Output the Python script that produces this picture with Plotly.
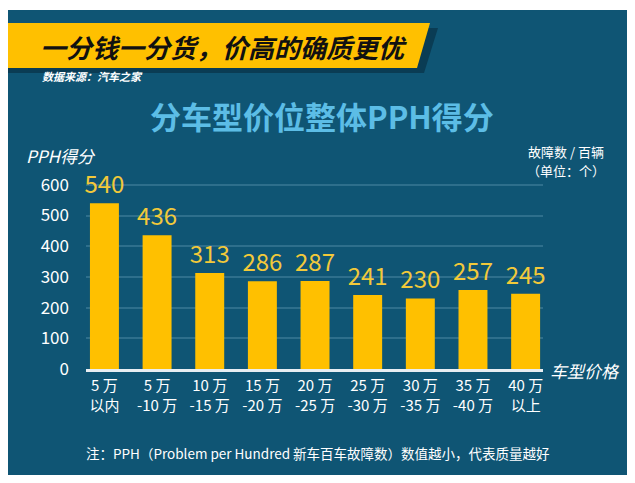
import plotly.graph_objects as go

categories = ["5 万<br>以内", "5 万<br>-10 万", "10 万<br>-15 万", "15 万<br>-20 万", "20 万<br>-25 万",
              "25 万<br>-30 万", "30 万<br>-35 万", "35 万<br>-40 万", "40 万<br>以上"]
pph_values = [540, 436, 313, 286, 287, 241, 230, 257, 245]
y_ticks = [0, 100, 200, 300, 400, 500, 600]

# page body has an 8px margin; figure covers the rest of the 635x483 window
OFF = 8
W, H = 635 - OFF, 483 - OFF
BG = "#0f5574"
YEL = "#ffc000"
CJK = "Noto Sans CJK SC"

def px(x):
    return (x - OFF) / W

def py(y):
    return 1 - (y - OFF) / H

x_idx = list(range(len(categories)))

fig = go.Figure()
fig.add_trace(go.Bar(
    x=x_idx, y=pph_values, marker=dict(color=YEL, line=dict(width=0)),
    width=0.55,
    text=[str(v) for v in pph_values], textposition="outside",
    textfont=dict(color="#f2c93a", size=24, family=CJK),
    constraintext="none",
    cliponaxis=False, hoverinfo="skip",
))

plot_left, plot_right, plot_bottom = 86, 543, 369
ymax = 630
ppu = 30.7 / 100
plot_top = plot_bottom - ymax * ppu

fig.update_layout(
    width=W, height=H,
    margin=dict(l=0, r=0, t=0, b=0, autoexpand=False),
    paper_bgcolor="white", plot_bgcolor="rgba(0,0,0,0)",
    showlegend=False,
    bargap=0.45,
    font=dict(family=CJK, color="white"),
    xaxis=dict(
        domain=[px(plot_left), px(plot_right)],
        range=[-0.35, 8.33], tickvals=x_idx, ticktext=categories,
        tickfont=dict(size=15, color="white", family=CJK),
        showgrid=False, zeroline=False, showline=True, linecolor="#e8eef2", linewidth=3,
        ticks="", ticklabelstandoff=1, automargin=False,
    ),
    yaxis=dict(
        domain=[py(plot_bottom), py(plot_top)],
        range=[0, ymax], tickvals=y_ticks, ticktext=[str(t) for t in y_ticks],
        tickfont=dict(size=17, color="white", family=CJK),
        showgrid=True, gridcolor="#2e6f8c", gridwidth=1.5, zeroline=False, showline=False,
        ticks="", ticklabelstandoff=16, automargin=False,
    ),
)

shapes = []
# dark panel
shapes.append(dict(type="rect", xref="paper", yref="paper", layer="below",
                   x0=px(8), x1=px(628), y0=py(475), y1=py(10),
                   fillcolor=BG, line=dict(width=0)))
# banner shadow
shapes.append(dict(type="path", xref="paper", yref="paper", layer="below",
                   path=f"M {px(8)},{py(28)} L {px(438)},{py(28)} L {px(424)},{py(73)} L {px(8)},{py(73)} Z",
                   fillcolor="#0a3c54", line=dict(width=0)))
# yellow banner
shapes.append(dict(type="path", xref="paper", yref="paper", layer="below",
                   path=f"M {px(8)},{py(23)} L {px(430)},{py(23)} L {px(417)},{py(68)} L {px(8)},{py(68)} Z",
                   fillcolor=YEL, line=dict(width=0)))
fig.update_layout(shapes=shapes)

ann = []
ann.append(dict(x=px(38), y=py(47), xref="paper", yref="paper", xanchor="left", yanchor="middle",
                text="<b><i>一分钱一分货，价高的确质更优</i></b>", showarrow=False,
                font=dict(size=26, color="#111111", family=CJK)))
ann.append(dict(x=px(40), y=py(76), xref="paper", yref="paper", xanchor="left", yanchor="middle",
                text="<b><i>数据来源：汽车之家</i></b>", showarrow=False,
                font=dict(size=11, color="white", family=CJK)))
ann.append(dict(x=px(322), y=py(115), xref="paper", yref="paper", xanchor="center", yanchor="middle",
                text="<b>分车型价位整体PPH得分</b>", showarrow=False,
                font=dict(size=31, color="#5cbde6", family=CJK)))
ann.append(dict(x=px(24), y=py(155), xref="paper", yref="paper", xanchor="left", yanchor="middle",
                text="<i>PPH得分</i>", showarrow=False,
                font=dict(size=17, color="white", family=CJK)))
ann.append(dict(x=px(566), y=py(151), xref="paper", yref="paper", xanchor="center", yanchor="middle",
                text="故障数 / 百辆", showarrow=False,
                font=dict(size=13, color="white", family=CJK)))
ann.append(dict(x=px(566), y=py(170), xref="paper", yref="paper", xanchor="center", yanchor="middle",
                text="（单位：个）", showarrow=False,
                font=dict(size=13, color="white", family=CJK)))
ann.append(dict(x=px(548), y=py(370), xref="paper", yref="paper", xanchor="left", yanchor="middle",
                text="<i>车型价格</i>", showarrow=False,
                font=dict(size=17, color="white", family=CJK)))
ann.append(dict(x=px(318), y=py(453), xref="paper", yref="paper", xanchor="center", yanchor="middle",
                text="注：PPH（Problem per Hundred 新车百车故障数）数值越小，代表质量越好", showarrow=False,
                font=dict(size=13.5, color="white", family=CJK)))
fig.update_layout(annotations=ann)

fig.write_html("out.html")
